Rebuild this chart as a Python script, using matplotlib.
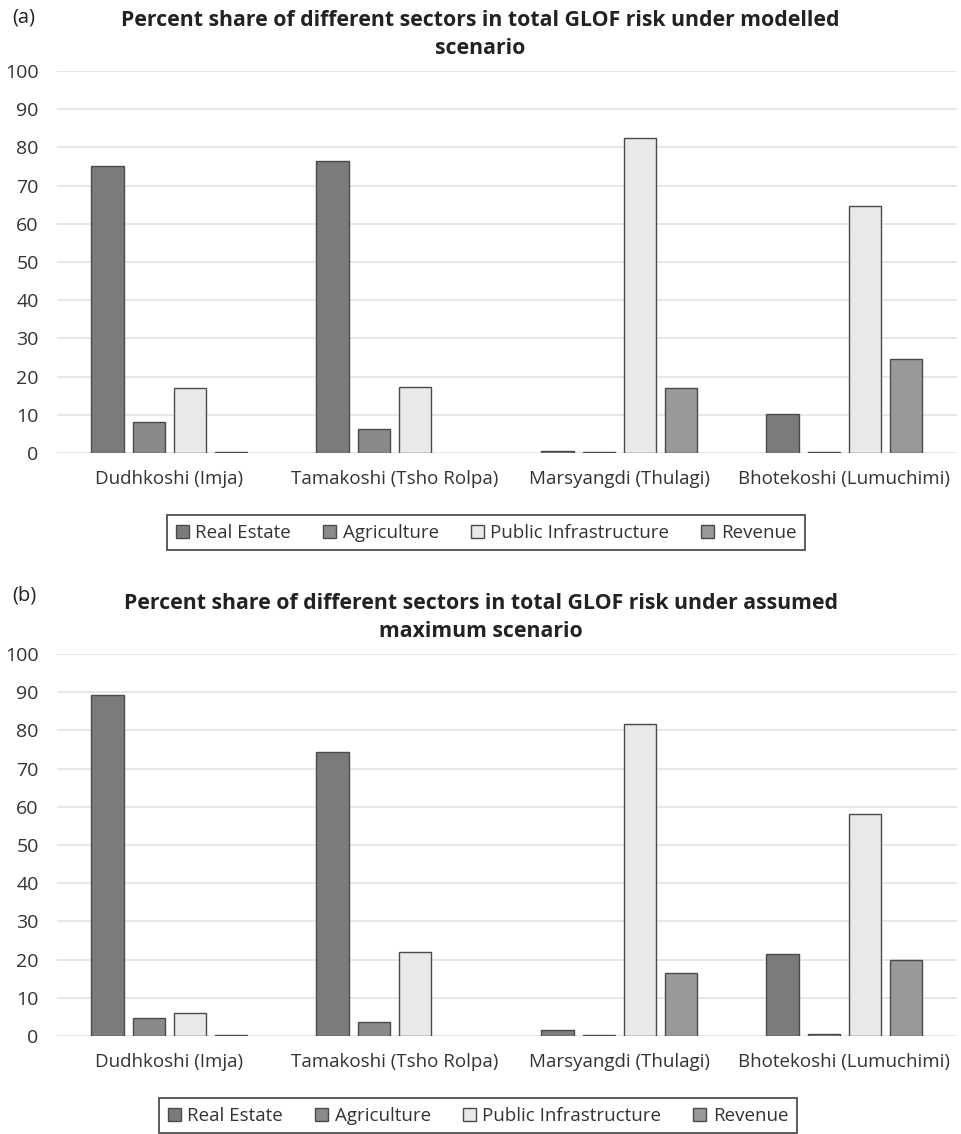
import matplotlib.pyplot as plt
import numpy as np

plt.rcParams['font.family'] = ['Open Sans', 'DejaVu Sans']

catchments = ['Dudhkoshi (Imja)', 'Tamakoshi (Tsho Rolpa)', 'Marsyangdi (Thulagi)', 'Bhotekoshi (Lumuchimi)']
sectors = ['Real Estate', 'Agriculture', 'Public Infrastructure', 'Revenue']

# (a) modelled scenario, % share per sector
modelled_real_estate = [75.0, 76.5, 0.5, 10.3]
modelled_agriculture = [8.0, 6.3, 0.2, 0.2]
modelled_public = [17.0, 17.2, 82.5, 64.7]
modelled_revenue = [0.3, 0.0, 17.0, 24.7]

# (b) assumed maximum scenario
maximum_real_estate = [89.3, 74.3, 1.5, 21.5]
maximum_agriculture = [4.7, 3.7, 0.3, 0.6]
maximum_public = [6.0, 22.0, 81.7, 58.0]
maximum_revenue = [0.3, 0.0, 16.5, 20.0]

colors = ['#7b7b7b', '#8a8a8a', '#e9e9e9', '#999999']

fig = plt.figure(figsize=(9.62, 11.34), dpi=100)


def draw_panel(ax, series, title, letter, letter_y, legend_x):
    x = np.arange(len(catchments))
    pitch = 0.183
    width = 0.143
    for i, (vals, name) in enumerate(zip(series, sectors)):
        bars = ax.bar(x + (i - 1.5) * pitch, vals, width, color=colors[i],
                      edgecolor='#4a4a4a', linewidth=1.0, label=name, zorder=3)
        # empty cells show nothing in the original
        for b, v in zip(bars, vals):
            if v == 0:
                b.set_visible(False)
    ax.set_xlim(-0.5, len(catchments) - 0.5)
    ax.set_ylim(0, 100)
    ax.set_yticks(range(0, 101, 10))
    ax.set_xticks(x)
    ax.set_xticklabels(catchments, fontsize=13.5, color='#333333')
    ax.tick_params(axis='y', labelsize=14, colors='#333333', length=0, pad=13)
    ax.tick_params(axis='x', length=0, pad=12)
    ax.grid(axis='y', color='#e3e3e3', linewidth=1.2, zorder=0)
    for s in ax.spines.values():
        s.set_visible(False)
    ax.set_title(title, fontsize=15.3, fontweight='bold', color='#222222', pad=12,
                 linespacing=1.45, x=0.471)
    ax.text(-0.05, letter_y, letter, transform=ax.transAxes, fontsize=14.5, color='#222222',
            ha='left', va='center')
    leg = ax.legend(loc='center', bbox_to_anchor=(legend_x, -0.209), ncol=4, frameon=True,
                    fancybox=False, edgecolor='#222222', fontsize=13.5, handlelength=0.7,
                    handleheight=0.7, columnspacing=1.7, handletextpad=0.35,
                    borderpad=0.45)
    leg.get_frame().set_linewidth(1.3)
    for t in leg.get_texts():
        t.set_color('#333333')


ax1 = fig.add_axes([0.059, 0.6005, 0.9355, 0.3369])
draw_panel(ax1, [modelled_real_estate, modelled_agriculture, modelled_public, modelled_revenue],
           'Percent share of different sectors in total GLOF risk under modelled\nscenario',
           '(a)', 1.141, 0.477)

ax2 = fig.add_axes([0.059, 0.0864, 0.9355, 0.3369])
draw_panel(ax2, [maximum_real_estate, maximum_agriculture, maximum_public, maximum_revenue],
           'Percent share of different sectors in total GLOF risk under assumed\nmaximum scenario',
           '(b)', 1.154, 0.468)

fig.savefig('out.png', dpi=100)
